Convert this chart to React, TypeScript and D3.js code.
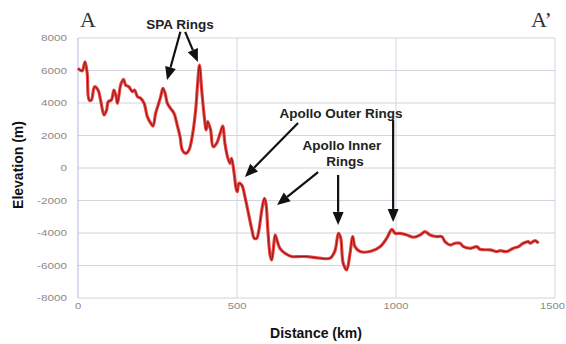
import React from "react";
import * as d3 from "d3";

// profile A - A' (distance in km, elevation in m)
const distance = [
  0, 13, 22, 29, 35, 42, 52, 63, 71, 82,
  90, 95, 105, 113, 120, 124, 129, 134, 143, 150,
  160, 171, 178, 187, 197, 208, 218, 229, 236, 244,
  252, 260, 267, 274, 281, 291, 302, 312, 321, 328,
  339, 349, 359, 370, 377, 382, 389, 396, 403, 408,
  417, 425, 436, 447, 455, 462, 470, 478, 483, 491,
  497, 501, 506, 515, 525, 536, 547, 554, 562, 569,
  578, 586, 591, 597, 604, 609, 614, 620, 627, 635,
  651, 672, 693, 720, 761, 793, 808, 819, 826, 834,
  845, 855, 864, 871, 887, 918, 950, 971, 987, 997,
  1013, 1034, 1055, 1076, 1091, 1107, 1128, 1144, 1154, 1170,
  1186, 1201, 1212, 1233, 1254, 1264, 1296, 1317, 1327, 1348,
  1369, 1385, 1400, 1416, 1422, 1437, 1448,
];
const elevation = [
  6130, 5980, 6540, 5820, 4180, 4180, 5000, 4800, 4180, 3260,
  3570, 4080, 4180, 4800, 4390, 3980, 4490, 5100, 5450, 5100,
  5000, 4700, 4800, 4390, 4290, 3980, 3160, 2750, 2580, 3360,
  3870, 4390, 4900, 4590, 3980, 3670, 3360, 2640, 1920, 1110,
  900, 1110, 1920, 3570, 5410, 6330, 4800, 3360, 2340, 2850,
  2340, 1310, 1520, 2130, 2580, 1520, 700, 290, 600, -330,
  -1250, -1460, -940, -1050, -1770, -2790, -3810, -4320, -4320, -3810,
  -2580, -1860, -2170, -3810, -5350, -5660, -5040, -4120, -4530, -4940,
  -5250, -5450, -5450, -5450, -5550, -5550, -5100, -4020, -4300, -5860,
  -6270, -5300, -4220, -4840, -5140, -5140, -4840, -4320, -3770, -4020,
  -4020, -4120, -4260, -4120, -3920, -4120, -4220, -4220, -4530, -4740,
  -4630, -4630, -4840, -4940, -4840, -5000, -5040, -5140, -5090, -5140,
  -4940, -4840, -4630, -4530, -4630, -4470, -4630,
];

const xTicks = [0, 500, 1000, 1500];
const yTicks = [-8000, -6000, -4000, -2000, 0, 2000, 4000, 6000, 8000];

// annotation labels and arrows, in data units
const labels = [
  { text: "SPA Rings", x: 321, y: 8860 },
  { text: "Apollo Outer Rings", x: 827, y: 3380 },
  { text: "Apollo Inner", x: 830, y: 1410 },
  { text: "Rings", x: 840, y: 430 },
];
const arrows = [
  { x0: 322, y0: 8380, x1: 280, y1: 5410 },
  { x0: 337, y0: 8380, x1: 377, y1: 6520 },
  { x0: 692, y0: 2770, x1: 525, y1: -550 },
  { x0: 755, y0: -250, x1: 626, y1: -2280 },
  { x0: 818, y0: -430, x1: 818, y1: -3500 },
  { x0: 991, y0: 2950, x1: 991, y1: -3320 },
];

const W = 566;
const H = 344;
const margin = { left: 78, top: 38, right: 11, bottom: 46 };

export default function App() {
  const x = d3.scaleLinear().domain([0, 1500]).range([margin.left, W - margin.right]);
  const y = d3.scaleLinear().domain([-8000, 8000]).range([H - margin.bottom, margin.top]);

  const pts: [number, number][] = distance.map((d, i) => [d, elevation[i]]);
  const line = d3
    .line<[number, number]>()
    .x((d) => x(d[0]))
    .y((d) => y(d[1]))
    .curve(d3.curveCatmullRom.alpha(0.5));
  const path = line(pts) || "";

  const sans = "'Liberation Sans', Arial, sans-serif";

  const arrowHead = (a: typeof arrows[0]) => {
    const px0 = x(a.x0), py0 = y(a.y0), px1 = x(a.x1), py1 = y(a.y1);
    const ang = Math.atan2(py1 - py0, px1 - px0);
    const len = 13, half = 5.5;
    const bx = px1 - len * Math.cos(ang), by = py1 - len * Math.sin(ang);
    const nx = -Math.sin(ang), ny = Math.cos(ang);
    return {
      line: [px0, py0, bx, by],
      head: `${px1},${py1} ${bx + nx * half},${by + ny * half} ${bx - nx * half},${by - ny * half}`,
    };
  };

  return (
    <svg width={W} height={H} style={{ position: "absolute", left: 0, top: 0, background: "#fff" }}>
      {/* grid */}
      <g>
        {yTicks.map((t) => (
          <line key={t} x1={x(0)} x2={x(1500)} y1={y(t)} y2={y(t)} stroke="#d4d4dc" strokeWidth={1} />
        ))}
        {xTicks.slice(1).map((t) => (
          <line key={t} x1={x(t)} x2={x(t)} y1={y(8000)} y2={y(-8000)} stroke="#d4d4e4" strokeWidth={1} />
        ))}
        <line x1={x(0)} x2={x(0)} y1={y(8000)} y2={y(-8000)} stroke="#b4b4e0" strokeWidth={1} />
      </g>

      {/* tick labels */}
      <g fill="#8a8a8a" fontFamily={sans} fontSize={9}>
        {yTicks.map((t) => (
          <text
            key={t}
            transform={`translate(${x(0) - 11},${y(t) + 3}) scale(1.3,1)`}
            textAnchor="end"
          >
            {t}
          </text>
        ))}
        {xTicks.map((t, i) => {
          const last = i === xTicks.length - 1;
          return (
            <text
              key={t}
              transform={`translate(${last ? W - 1 : x(t)},${y(-8000) + 11}) scale(1.25,1)`}
              textAnchor={last ? "end" : "middle"}
            >
              {t}
            </text>
          );
        })}
      </g>

      {/* profile */}
      <path d={path} fill="none" stroke="#e42a24" strokeWidth={3.2} strokeOpacity={0.85} strokeLinejoin="round" />
      <path d={path} fill="none" stroke="#a01414" strokeWidth={1.1} strokeLinejoin="round" />

      {/* axis titles */}
      <text x={316} y={338} textAnchor="middle" fontFamily={sans} fontWeight="bold" fontSize={14} fill="#111">
        Distance (km)
      </text>
      <text
        transform="translate(23,165) rotate(-90)"
        textAnchor="middle"
        fontFamily={sans}
        fontWeight="bold"
        fontSize={14}
        fill="#111"
      >
        Elevation (m)
      </text>

      {/* section letters */}
      <text x={80} y={27} fontFamily="'Liberation Serif', 'Times New Roman', serif" fontSize={22} fill="#333">
        A
      </text>
      <text x={531} y={27} fontFamily="'Liberation Serif', 'Times New Roman', serif" fontSize={22} fill="#333">
        A’
      </text>

      {/* annotations */}
      <g fill="#222">
        {arrows.map((a, i) => {
          const h = arrowHead(a);
          return (
            <g key={i}>
              <line x1={h.line[0]} y1={h.line[1]} x2={h.line[2]} y2={h.line[3]} stroke="#111" strokeWidth={2.2} />
              <polygon points={h.head} fill="#111" />
            </g>
          );
        })}
        {labels.map((l) => (
          <text
            key={l.text}
            x={x(l.x)}
            y={y(l.y)}
            dy="0.35em"
            textAnchor="middle"
            fontFamily={sans}
            fontWeight="bold"
            fontSize={13.5}
          >
            {l.text}
          </text>
        ))}
      </g>
    </svg>
  );
}
